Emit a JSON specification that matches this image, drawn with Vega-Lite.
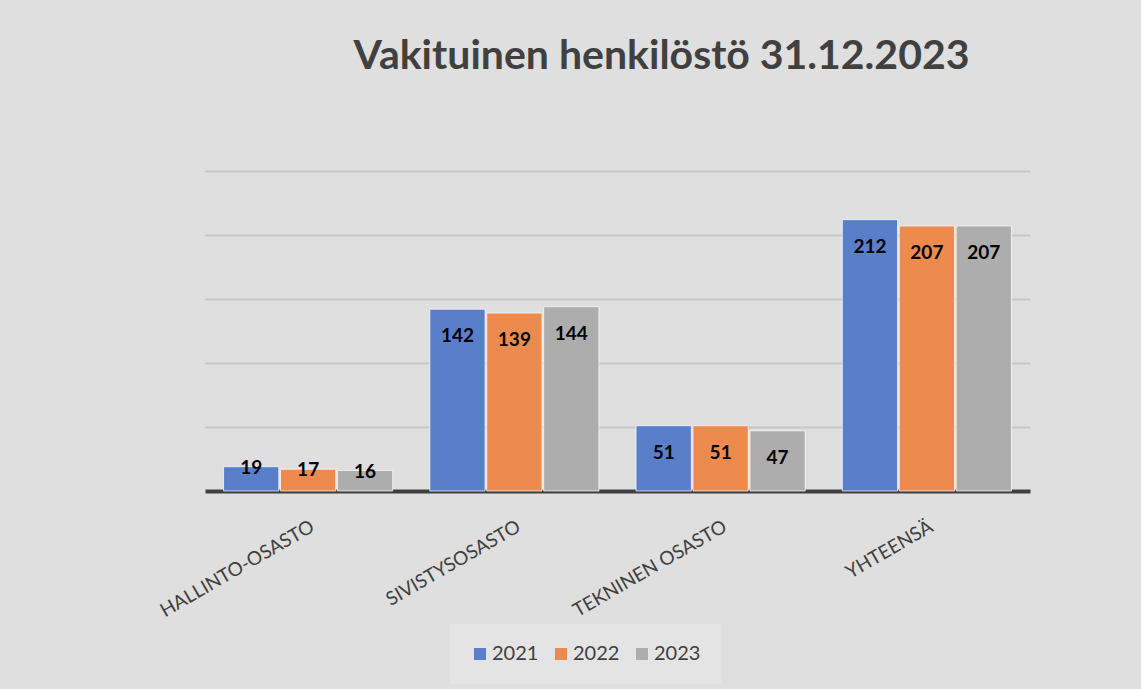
{
  "$schema": "https://vega.github.io/schema/vega-lite/v6.json",
  "autosize": "none",
  "width": 825,
  "height": 320,
  "padding": {"left": 205, "top": 171, "right": 111, "bottom": 198},
  "background": "#dfdfdf",
  "title": {
    "text": "Vakituinen henkilöstö 31.12.2023",
    "anchor": "middle",
    "dx": 44,
    "offset": 93,
    "font": "Lato",
    "fontSize": 41,
    "fontWeight": "bold",
    "color": "#404040"
  },
  "data": {
    "values": [
      {"osasto": "HALLINTO-OSASTO", "vuosi": "2021", "value": 19},
      {"osasto": "HALLINTO-OSASTO", "vuosi": "2022", "value": 17},
      {"osasto": "HALLINTO-OSASTO", "vuosi": "2023", "value": 16},
      {"osasto": "SIVISTYSOSASTO", "vuosi": "2021", "value": 142},
      {"osasto": "SIVISTYSOSASTO", "vuosi": "2022", "value": 139},
      {"osasto": "SIVISTYSOSASTO", "vuosi": "2023", "value": 144},
      {"osasto": "TEKNINEN OSASTO", "vuosi": "2021", "value": 51},
      {"osasto": "TEKNINEN OSASTO", "vuosi": "2022", "value": 51},
      {"osasto": "TEKNINEN OSASTO", "vuosi": "2023", "value": 47},
      {"osasto": "YHTEENSÄ", "vuosi": "2021", "value": 212},
      {"osasto": "YHTEENSÄ", "vuosi": "2022", "value": 207},
      {"osasto": "YHTEENSÄ", "vuosi": "2023", "value": 207}
    ]
  },
  "encoding": {
    "x": {
      "field": "osasto",
      "type": "nominal",
      "sort": null,
      "scale": {"paddingInner": 0.18, "paddingOuter": 0.09},
      "axis": {
        "title": null,
        "ticks": false,
        "labelAngle": -30,
        "labelAlign": "right",
        "labelBaseline": "top",
        "labelPadding": 26,
        "labelFont": "Lato",
        "labelFontSize": 19,
        "labelColor": "#404040",
        "domainColor": "#404040",
        "domainWidth": 4,
        "grid": false
      }
    },
    "xOffset": {
      "field": "vuosi",
      "type": "nominal",
      "scale": {"paddingInner": 0.03}
    },
    "y": {
      "field": "value",
      "type": "quantitative",
      "scale": {"domain": [0, 250], "nice": false},
      "axis": {
        "title": null,
        "labels": false,
        "ticks": false,
        "domain": false,
        "values": [50, 100, 150, 200, 250],
        "gridColor": "#c6c6c6",
        "gridWidth": 2
      }
    }
  },
  "layer": [
    {
      "mark": {"type": "bar", "stroke": "#ffffff", "strokeWidth": 1, "strokeOpacity": 0.7},
      "encoding": {
        "color": {
          "field": "vuosi",
          "type": "nominal",
          "scale": {"domain": ["2021", "2022", "2023"], "range": ["#5a7fca", "#ec8b4d", "#adadad"]},
          "legend": {
            "title": null,
            "orient": "none",
            "direction": "horizontal",
            "legendX": 245,
            "legendY": 453,
            "padding": 20,
            "fillColor": "#e4e4e4",
            "symbolType": "square",
            "symbolSize": 144,
            "symbolStrokeWidth": 0,
            "labelFont": "Lato",
            "labelFontSize": 20,
            "labelColor": "#404040",
            "labelOffset": 2,
            "columnPadding": 12
          }
        }
      }
    },
    {
      "transform": [{"filter": "datum.value >= 30"}],
      "mark": {"type": "text", "baseline": "middle", "dy": 27, "font": "Lato", "fontSize": 19, "fontWeight": "bold", "color": "#000000"},
      "encoding": {"text": {"field": "value", "type": "quantitative"}}
    },
    {
      "transform": [{"filter": "datum.value < 30"}],
      "mark": {"type": "text", "baseline": "middle", "dy": 1, "font": "Lato", "fontSize": 19, "fontWeight": "bold", "color": "#000000"},
      "encoding": {"text": {"field": "value", "type": "quantitative"}}
    }
  ],
  "config": {"view": {"stroke": null}}
}
